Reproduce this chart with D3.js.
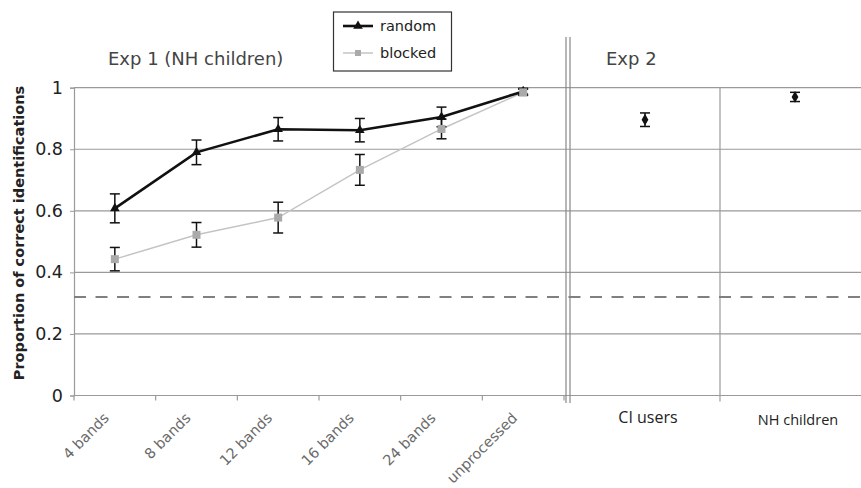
<!DOCTYPE html>
<html><head><meta charset="utf-8">
<script src="https://cdn.jsdelivr.net/npm/d3@7"></script>
<style>body{margin:0;background:#fff}svg{display:block}</style>
</head><body>
<svg id="c" width="861" height="488"></svg>
<script>
const categories1 = ["4 bands","8 bands","12 bands","16 bands","24 bands","unprocessed"];
const randomVals = [0.608, 0.790, 0.865, 0.862, 0.905, 0.988];
const randomErr  = [0.047, 0.040, 0.038, 0.038, 0.032, 0.010];
const blockedVals = [0.443, 0.522, 0.578, 0.733, 0.866, 0.985];
const blockedErr  = [0.038, 0.040, 0.050, 0.050, 0.032, 0.010];
const categories2 = ["CI users","NH children"];
const exp2Vals = [0.896, 0.970];
const exp2Err  = [0.022, 0.015];
const chance = 0.32;
const yTicks = [0, 0.2, 0.4, 0.6, 0.8, 1];

const svg = d3.select("#c");
const y = d3.scaleLinear().domain([0,1]).range([395.5, 87.7]);
const x1 = d3.scaleBand().domain(categories1).range([74, 564]);
const x2 = d3.scaleBand().domain(categories2).range([570, 870]);
const gridC = "#9a9a9a";

// gridlines
svg.append("g").selectAll("line").data(yTicks.filter(d=>d>0)).join("line")
  .attr("x1", 74).attr("x2", 861).attr("y1", d=>y(d)).attr("y2", d=>y(d))
  .attr("stroke", gridC).attr("stroke-width", 1.2);

// y axis
const ya = svg.append("g").attr("transform","translate(74,0)")
  .call(d3.axisLeft(y).tickValues(yTicks).tickSize(4).tickPadding(7)
    .tickFormat(d => d===0 ? "0" : d===1 ? "1" : d3.format(".1f")(d)));
ya.select(".domain").attr("stroke", gridC).attr("stroke-width",1.2);
ya.selectAll(".tick line").attr("stroke", gridC);
ya.selectAll(".tick text").attr("font-family","DejaVu Sans").attr("font-size",17.5).attr("fill","#222");

// x baseline
svg.append("line").attr("x1",74).attr("x2",861).attr("y1",y(0)).attr("y2",y(0))
  .attr("stroke", gridC).attr("stroke-width",1.2);

// x tick marks at category boundaries
const bounds1 = categories1.map(c=>x1(c)).concat([x1.range()[1]]);
svg.append("g").selectAll("line").data(bounds1).join("line")
  .attr("x1",d=>d).attr("x2",d=>d).attr("y1",y(0)).attr("y2",y(0)+5)
  .attr("stroke", gridC).attr("stroke-width",1.2);

// double separator
[566, 570].forEach(xx => svg.append("line").attr("x1",xx).attr("x2",xx)
  .attr("y1",37).attr("y2",403).attr("stroke","#888").attr("stroke-width",1.2));

// panel 2 divider
svg.append("line").attr("x1",x2(categories2[1])).attr("x2",x2(categories2[1]))
  .attr("y1",y(1)).attr("y2",y(0)+6).attr("stroke",gridC).attr("stroke-width",1.2);

// chance dashed line
svg.append("line").attr("x1",74).attr("x2",861).attr("y1",y(chance)).attr("y2",y(chance))
  .attr("stroke","#808080").attr("stroke-width",2).attr("stroke-dasharray","12,9.5");

// x labels panel 1
svg.append("g").selectAll("text").data(categories1).join("text")
  .attr("transform", d => `translate(${x1(d)+x1.bandwidth()/2-5},419) rotate(-45)`)
  .attr("text-anchor","end").attr("font-family","DejaVu Sans").attr("font-size",14.5)
  .attr("fill","#6a6a6a").text(d=>d);

// x labels panel 2
svg.append("g").selectAll("text").data(categories2).join("text")
  .attr("x", d => x2(d)+x2.bandwidth()/2+3).attr("y", (d,i)=> i===0?423:425)
  .attr("text-anchor","middle").attr("font-family","Open Sans")
  .attr("font-size",(d,i)=> i===0?16:14.5).attr("fill","#222").text(d=>d);

// error bars helper
function errBars(g, xs, vals, errs, cap){
  vals.forEach((v,i)=>{
    const cx = xs[i];
    g.append("line").attr("x1",cx).attr("x2",cx).attr("y1",y(v-errs[i])).attr("y2",y(v+errs[i]))
      .attr("stroke","#111").attr("stroke-width",1.5);
    [v-errs[i], v+errs[i]].forEach(e=>g.append("line").attr("x1",cx-cap).attr("x2",cx+cap)
      .attr("y1",y(e)).attr("y2",y(e)).attr("stroke","#111").attr("stroke-width",1.5));
  });
}
const cx1 = categories1.map(c=>x1(c)+x1.bandwidth()/2);
const cx2 = categories2.map(c=>x2(c)+x2.bandwidth()/2);

const line = d3.line().x((d,i)=>cx1[i]).y(d=>y(d));

// blocked line
svg.append("path").datum(blockedVals).attr("d",line).attr("fill","none")
  .attr("stroke","#c4c4c4").attr("stroke-width",1.5);
// random line
svg.append("path").datum(randomVals).attr("d",line).attr("fill","none")
  .attr("stroke","#111").attr("stroke-width",2.6);
errBars(svg.append("g"), cx1, randomVals, randomErr, 5);
const tri = d3.symbol().type(d3.symbolTriangle).size(40);
svg.append("g").selectAll("path").data(randomVals).join("path")
  .attr("d", tri).attr("transform",(d,i)=>`translate(${cx1[i]},${y(d)})`).attr("fill","#111");
// blocked markers on top
errBars(svg.append("g"), cx1, blockedVals, blockedErr, 5);
svg.append("g").selectAll("rect").data(blockedVals).join("rect")
  .attr("x",(d,i)=>cx1[i]-4).attr("y",d=>y(d)-4).attr("width",8).attr("height",8)
  .attr("fill","#aaaaaa");

// exp2
errBars(svg.append("g"), cx2, exp2Vals, exp2Err, 5);
const dia = d3.symbol().type(d3.symbolDiamond).size(40);
svg.append("g").selectAll("path").data(exp2Vals).join("path")
  .attr("d", dia).attr("transform",(d,i)=>`translate(${cx2[i]},${y(d)})`).attr("fill","#111");

// panel titles
svg.append("text").attr("x",108).attr("y",65).attr("font-family","DejaVu Sans")
  .attr("font-size",18).attr("fill","#444").text("Exp 1 (NH children)");
svg.append("text").attr("x",606).attr("y",65).attr("font-family","DejaVu Sans")
  .attr("font-size",18).attr("fill","#444").text("Exp 2");

// y axis title
svg.append("text").attr("transform","translate(24,233) rotate(-90)")
  .attr("text-anchor","middle").attr("font-family","DejaVu Sans").attr("font-weight","bold")
  .attr("font-size",14.5).attr("fill","#222").text("Proportion of correct identifications");

// legend
const lg = svg.append("g");
lg.append("rect").attr("x",333.5).attr("y",12).attr("width",118).attr("height",59)
  .attr("fill","#fff").attr("stroke","#333").attr("stroke-width",1.2);
lg.append("line").attr("x1",343).attr("x2",373).attr("y1",26).attr("y2",26).attr("stroke","#111").attr("stroke-width",2.6);
lg.append("path").attr("d",tri).attr("transform","translate(358,26)").attr("fill","#111");
lg.append("line").attr("x1",343).attr("x2",373).attr("y1",53).attr("y2",53).attr("stroke","#c4c4c4").attr("stroke-width",1.5);
lg.append("rect").attr("x",355).attr("y",50).attr("width",6).attr("height",6).attr("fill","#aaaaaa");
lg.append("text").attr("x",380).attr("y",31).attr("font-family","DejaVu Sans").attr("font-size",14.5).attr("fill","#222").text("random");
lg.append("text").attr("x",380).attr("y",58).attr("font-family","DejaVu Sans").attr("font-size",14.5).attr("fill","#222").text("blocked");
</script>
</body></html>
